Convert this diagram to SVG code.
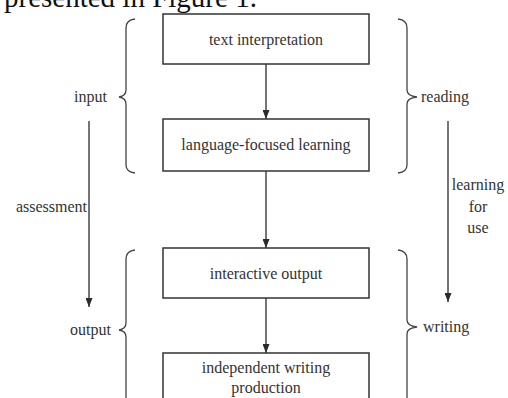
<svg xmlns="http://www.w3.org/2000/svg" width="508" height="398" viewBox="0 0 508 398">
<defs>
<marker id="ah2" markerWidth="9" markerHeight="7" refX="9" refY="3.5" orient="auto" markerUnits="userSpaceOnUse">
<path d="M0,0 L9,3.5 L0,7 Z" fill="#2b2b2b"/>
</marker>
</defs>
<style>
.box{fill:#fff;stroke:#333;stroke-width:1.5}
.t{font-family:"Liberation Serif",serif;font-size:16px;fill:#333;text-anchor:middle}
.l{font-family:"Liberation Serif",serif;font-size:16px;fill:#333}
.br{fill:none;stroke:#444;stroke-width:1.3}
.c{stroke:#2b2b2b;stroke-width:1.3;fill:none}
</style>
<rect width="508" height="398" fill="#fff"/>
<text x="4" y="7" font-family="Liberation Serif,serif" font-size="29" fill="#111">presented in Figure 1.</text>

<g id="braces">
<path class="br" d="M135,19 Q126,20 126,28 L126,90 Q126,96 119,97 Q126,98 126,104 L126,165 Q126,172 135,173"/>
<path class="br" d="M398,19 Q407,20 407,28 L407,90 Q407,96 417,97 Q407,98 407,104 L407,165 Q407,172 398,173"/>
<path class="br" d="M135,250 Q126,251 126,259 L126,323 Q126,329 119,330 Q126,331 126,337 L126,410"/>
<path class="br" d="M398,250 Q407,251 407,259 L407,320 Q407,326 417,327 Q407,328 407,334 L407,410"/>
</g>

<g id="connectors">
<line class="c" x1="266" y1="64" x2="266" y2="119" marker-end="url(#ah2)"/>
<line class="c" x1="266" y1="171" x2="266" y2="248" marker-end="url(#ah2)"/>
<line class="c" x1="266" y1="298" x2="266" y2="353" marker-end="url(#ah2)"/>
<line class="c" x1="89" y1="121" x2="89" y2="307" marker-end="url(#ah2)"/>
<line class="c" x1="448" y1="121" x2="448" y2="302" marker-end="url(#ah2)"/>
</g>

<g id="n1"><rect class="box" x="163" y="14" width="206" height="50"/><text class="t" x="266" y="45">text interpretation</text></g>
<g id="n2"><rect class="box" x="163" y="119" width="206" height="52"/><text class="t" x="266" y="150">language-focused learning</text></g>
<g id="n3"><rect class="box" x="163" y="248" width="206" height="50"/><text class="t" x="266" y="279">interactive output</text></g>
<g id="n4"><rect class="box" x="163" y="353" width="206" height="60"/><text class="t" x="266" y="373">independent writing</text><text class="t" x="266" y="393">production</text></g>

<g id="labels">
<text class="l" x="107" y="102" text-anchor="end">input</text>
<text class="l" x="421" y="102">reading</text>
<text class="l" x="111" y="335" text-anchor="end">output</text>
<text class="l" x="423" y="332">writing</text>
<text class="l" x="87" y="212" text-anchor="end">assessment</text>
<text class="t" x="478" y="190">learning</text>
<text class="t" x="478" y="212">for</text>
<text class="t" x="478" y="233">use</text>
</g>
</svg>
